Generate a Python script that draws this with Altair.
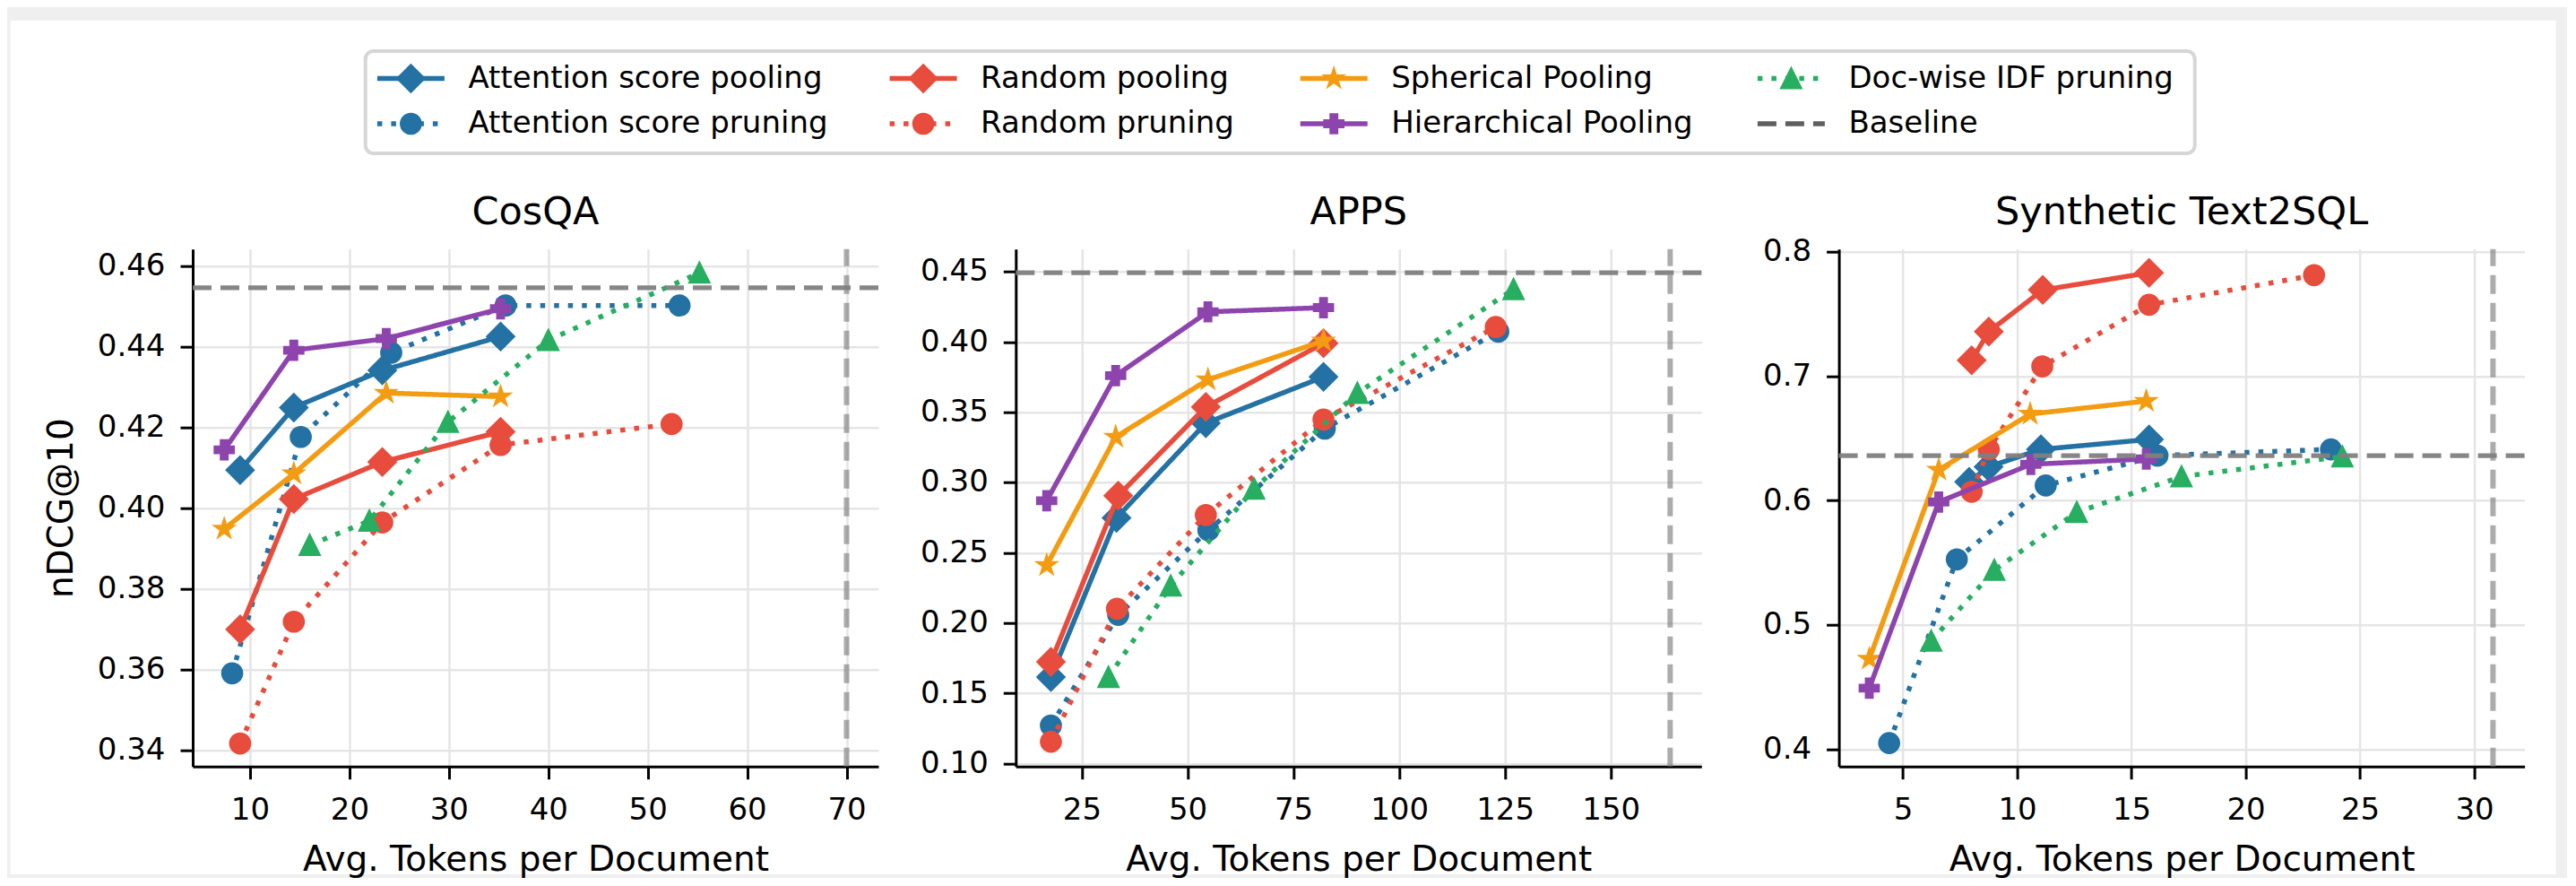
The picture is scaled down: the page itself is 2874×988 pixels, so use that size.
import math
import altair as alt
import pandas as pd

FONT = "DejaVu Sans"

# ------------------------------------------------------------------ data
method_names = [
    "Attention score pooling", "Attention score pruning",
    "Random pooling", "Random pruning",
    "Spherical Pooling", "Hierarchical Pooling",
    "Doc-wise IDF pruning",
]
method_colors = ["#2471A3", "#2471A3", "#E74C3C", "#E74C3C", "#F39C12", "#8E44AD", "#27AE60"]

# CosQA
cosqa_att_pool_x = [9.0, 14.4, 23.3, 35.2]
cosqa_att_pool_y = [0.4094, 0.4249, 0.4341, 0.4425]
cosqa_att_prune_x = [8.2, 15.1, 24.2, 35.7, 53.2]
cosqa_att_prune_y = [0.3590, 0.4176, 0.4385, 0.4502, 0.4502]
cosqa_rand_pool_x = [9.0, 14.4, 23.3, 35.2]
cosqa_rand_pool_y = [0.3699, 0.4022, 0.4114, 0.4189]
cosqa_rand_prune_x = [9.0, 14.4, 23.3, 35.2, 52.4]
cosqa_rand_prune_y = [0.3416, 0.3718, 0.3964, 0.4156, 0.4208]
cosqa_sph_x = [7.4, 14.4, 23.7, 35.2]
cosqa_sph_y = [0.3948, 0.4085, 0.4285, 0.4276]
cosqa_hier_x = [7.4, 14.4, 23.7, 35.2]
cosqa_hier_y = [0.4144, 0.4391, 0.4420, 0.4494]
cosqa_idf_x = [16.0, 22.0, 29.9, 40.0, 55.2]
cosqa_idf_y = [0.3908, 0.3968, 0.4213, 0.4416, 0.4583]
cosqa_baseline_score = 0.4546
cosqa_baseline_tokens = 70.0

# APPS
apps_att_pool_x = [17.7, 33.2, 54.3, 82.1]
apps_att_pool_y = [0.1615, 0.2748, 0.3422, 0.3751]
apps_att_prune_x = [17.7, 33.6, 54.9, 82.4, 123.4]
apps_att_prune_y = [0.1270, 0.2058, 0.2660, 0.3383, 0.4073]
apps_rand_pool_x = [17.7, 33.6, 54.3, 82.1]
apps_rand_pool_y = [0.1723, 0.2906, 0.3537, 0.3991]
apps_rand_prune_x = [17.7, 33.3, 54.3, 82.1, 122.8]
apps_rand_prune_y = [0.1155, 0.2101, 0.2768, 0.3448, 0.4106]
apps_sph_x = [16.7, 33.0, 54.8, 82.1]
apps_sph_y = [0.2410, 0.3324, 0.3731, 0.4007]
apps_hier_x = [16.7, 33.0, 54.8, 82.1]
apps_hier_y = [0.2870, 0.3760, 0.4214, 0.4244]
apps_idf_x = [31.3, 46.0, 65.7, 90.1, 127.0]
apps_idf_y = [0.1615, 0.2265, 0.2955, 0.3636, 0.4375]
apps_baseline_score = 0.4493
apps_baseline_tokens = 164.0

# Synthetic Text2SQL
sql_att_pool_x = [7.9, 8.75, 11.04, 15.77]
sql_att_pool_y = [0.615, 0.627, 0.641, 0.649]
sql_att_prune_x = [4.40, 7.36, 11.25, 16.14, 23.73]
sql_att_prune_y = [0.405, 0.5526, 0.612, 0.636, 0.641]
sql_rand_pool_x = [8.01, 8.76, 11.12, 15.77]
sql_rand_pool_y = [0.7126, 0.7356, 0.7691, 0.7829]
sql_rand_prune_x = [8.01, 8.76, 11.1, 15.77, 22.99]
sql_rand_prune_y = [0.607, 0.641, 0.7077, 0.7572, 0.781]
sql_sph_x = [3.53, 6.57, 10.57, 15.65]
sql_sph_y = [0.4726, 0.6245, 0.6694, 0.6798]
sql_hier_x = [3.53, 6.57, 10.6, 15.65]
sql_hier_y = [0.4491, 0.5987, 0.629, 0.6333]
sql_idf_x = [6.24, 9.0, 12.61, 17.19, 24.23]
sql_idf_y = [0.4871, 0.544, 0.5905, 0.6192, 0.6352]
sql_baseline_score = 0.636
sql_baseline_tokens = 30.82

panel_titles = ["CosQA", "APPS", "Synthetic Text2SQL"]
x_title = "Avg. Tokens per Document"
y_title = "nDCG@10"
baseline_label = "Baseline"

cosqa_xticks = [10, 20, 30, 40, 50, 60, 70]
cosqa_yticks = [0.34, 0.36, 0.38, 0.40, 0.42, 0.44, 0.46]
apps_xticks = [25, 50, 75, 100, 125, 150]
apps_yticks = [0.10, 0.15, 0.20, 0.25, 0.30, 0.35, 0.40, 0.45]
sql_xticks = [5, 10, 15, 20, 25, 30]
sql_yticks = [0.4, 0.5, 0.6, 0.7, 0.8]

# ------------------------------------------------------------------ styles
def star_path(n=5, inner=0.381966):
    pts = []
    for k in range(2 * n):
        ang = math.radians(90 + 180.0 / n * k)
        r = 1.0 if k % 2 == 0 else inner
        pts.append((r * math.cos(ang), -r * math.sin(ang)))
    return "M" + "L".join(f"{x:.4f},{y:.4f}" for x, y in pts) + "Z"

PLUS = "M-0.3333,-1L0.3333,-1L0.3333,-0.3333L1,-0.3333L1,0.3333L0.3333,0.3333L0.3333,1L-0.3333,1L-0.3333,0.3333L-1,0.3333L-1,-0.3333L-0.3333,-0.3333Z"
TRI = "M0,-1L1,1L-1,1Z"
STAR = star_path()

SOLID = [1, 0]
DOT = [5.5, 10]
method_shapes = ["diamond", "circle", "diamond", "circle", STAR, PLUS, TRI]
method_sizes = [858, 471, 858, 471, 400, 430, 450]
method_dashes = [SOLID, DOT, SOLID, DOT, SOLID, SOLID, DOT]
LINE_W = 5.5
EDGE_W = 3

BASE_DASH = [21, 10]
HCOLOR = "#808080"
W, H = 765, 577
GAP = 153.3


def panel(title, series, base_y, base_x, xdom, ydom, xticks, yticks, yfmt, show_ytitle):
    xscale = alt.Scale(domain=xdom, nice=False, zero=False)
    yscale = alt.Scale(domain=ydom, nice=False, zero=False)
    xaxis = alt.Axis(values=xticks, format="d", title=x_title, labelPadding=17.5,
                     titlePadding=19, labelFlush=False, labelOverlap=False)
    yargs = dict(values=yticks, format=yfmt, labelPadding=17, labelFlush=False,
                 labelOverlap=False)
    if show_ytitle:
        yargs.update(title=y_title, titlePadding=20)
    else:
        yargs.update(title=None)
    yaxis = alt.Axis(**yargs)

    layers = []
    for i, (xs, ys) in enumerate(series):
        df = pd.DataFrame({"x": xs, "y": ys, "method": method_names[i]})
        enc = dict(x=alt.X("x:Q", scale=xscale, axis=xaxis),
                   y=alt.Y("y:Q", scale=yscale, axis=yaxis))
        line = alt.Chart(df).mark_line(
            color=method_colors[i], strokeWidth=LINE_W, strokeDash=method_dashes[i],
            strokeCap="butt", strokeJoin="round").encode(**enc)
        pts = alt.Chart(df).mark_point(
            shape=method_shapes[i], size=method_sizes[i], filled=True,
            fill=method_colors[i], stroke=method_colors[i], strokeWidth=EDGE_W,
            strokeJoin="miter", opacity=1).encode(**enc)
        layers += [line, pts]

    hline = alt.Chart(pd.DataFrame({"y": [base_y]})).mark_rule(
        color=HCOLOR, opacity=0.95, strokeWidth=5.3, strokeDash=BASE_DASH, strokeCap="butt"
    ).encode(y=alt.Y("y:Q", scale=yscale, axis=yaxis), x=alt.value(0), x2=alt.value(W))
    vline = alt.Chart(pd.DataFrame({"x": [base_x]})).mark_rule(
        color=HCOLOR, opacity=0.65, strokeWidth=6, strokeDash=BASE_DASH, strokeCap="butt"
    ).encode(x=alt.X("x:Q", scale=xscale, axis=xaxis), y=alt.value(H), y2=alt.value(0))
    ttl = alt.Chart(pd.DataFrame({"t": [title]})).mark_text(
        font=FONT, fontSize=43, align="center", baseline="alphabetic", color="black"
    ).encode(text="t:N", x=alt.value(W / 2), y=alt.value(-27.7))
    layers += [hline, vline, ttl]

    return alt.layer(*layers).properties(width=W, height=H)


p1 = panel(panel_titles[0],
           [(cosqa_att_pool_x, cosqa_att_pool_y), (cosqa_att_prune_x, cosqa_att_prune_y),
            (cosqa_rand_pool_x, cosqa_rand_pool_y), (cosqa_rand_prune_x, cosqa_rand_prune_y),
            (cosqa_sph_x, cosqa_sph_y), (cosqa_hier_x, cosqa_hier_y), (cosqa_idf_x, cosqa_idf_y)],
           cosqa_baseline_score, cosqa_baseline_tokens,
           [4.23, 73.2], [0.3359, 0.4642], cosqa_xticks, cosqa_yticks, ".2f", True)
p2 = panel(panel_titles[1],
           [(apps_att_pool_x, apps_att_pool_y), (apps_att_prune_x, apps_att_prune_y),
            (apps_rand_pool_x, apps_rand_pool_y), (apps_rand_prune_x, apps_rand_prune_y),
            (apps_sph_x, apps_sph_y), (apps_hier_x, apps_hier_y), (apps_idf_x, apps_idf_y)],
           apps_baseline_score, apps_baseline_tokens,
           [9.4, 171.4], [0.0979, 0.4661], apps_xticks, apps_yticks, ".2f", False)
p3 = panel(panel_titles[2],
           [(sql_att_pool_x, sql_att_pool_y), (sql_att_prune_x, sql_att_prune_y),
            (sql_rand_pool_x, sql_rand_pool_y), (sql_rand_prune_x, sql_rand_prune_y),
            (sql_sph_x, sql_sph_y), (sql_hier_x, sql_hier_y), (sql_idf_x, sql_idf_y)],
           sql_baseline_score, sql_baseline_tokens,
           [2.2, 32.2], [0.3862, 0.802], sql_xticks, sql_yticks, ".1f", False)

panels = alt.hconcat(p1, p2, p3, spacing=GAP, bounds="flush")

# ------------------------------------------------------------------ legend (manual, matplotlib style)
LW = 3 * W + 2 * GAP
LH = 200
leg_col_x = [243.4, 815.1, 1273.2, 1783.4]
leg_row_y = [64.5, 115.0]
HALF = 37.5
TEXT_DX = 64

lx = alt.Scale(domain=[0, LW], nice=False, zero=False)
ly = alt.Scale(domain=[LH, 0], nice=False, zero=False)

leg_layers = []
# white card behind everything
leg_layers.append(alt.Chart(pd.DataFrame({"k": [0]})).mark_rect(fill="white", stroke=None).encode(
    x=alt.value(-203.3), x2=alt.value(2636.7), y=alt.value(0), y2=alt.value(952)))
# legend frame
leg_layers.append(alt.Chart(pd.DataFrame({"k": [0]})).mark_rect(
    fill="white", stroke="#d6d6d6", strokeWidth=4, cornerRadius=9).encode(
    x=alt.value(192.7), x2=alt.value(2233.7), y=alt.value(34), y2=alt.value(148)))

entries = []
for i, name in enumerate(method_names):
    entries.append((name, method_colors[i], method_dashes[i], method_shapes[i], method_sizes[i], i // 2, i % 2))
entries.append((baseline_label, "#5f5f5f", BASE_DASH, None, None, 3, 1))

for name, col, dash, shape, size, c, r in entries:
    cx, cy = leg_col_x[c], leg_row_y[r]
    d = pd.DataFrame({"x1": [cx - HALF], "x2": [cx + HALF], "cx": [cx], "tx": [cx + TEXT_DX],
                      "cy": [cy], "label": [name]})
    leg_layers.append(alt.Chart(d).mark_rule(
        color=col, strokeWidth=LINE_W if shape else 5.3, strokeDash=dash, strokeCap="butt").encode(
        x=alt.X("x1:Q", scale=lx, axis=None), x2="x2:Q", y=alt.Y("cy:Q", scale=ly, axis=None)))
    if shape:
        leg_layers.append(alt.Chart(d).mark_point(
            shape=shape, size=size, filled=True, fill=col, stroke=col, strokeWidth=EDGE_W,
            strokeJoin="miter", opacity=1).encode(x=alt.X("cx:Q", scale=lx, axis=None),
                                                  y=alt.Y("cy:Q", scale=ly, axis=None)))
    leg_layers.append(alt.Chart(d).mark_text(
        align="left", baseline="middle", font=FONT, fontSize=34, color="black").encode(
        x=alt.X("tx:Q", scale=lx, axis=None), y=alt.Y("cy:Q", scale=ly, axis=None),
        text="label:N"))

legend = alt.layer(*leg_layers).properties(width=LW, height=LH)

chart = alt.vconcat(legend, panels, spacing=254.7 - LH, bounds="flush").properties(
    background="#efefef",
    padding={"left": 3, "top": 15, "right": 12, "bottom": 0},
).configure_view(stroke=None).configure_axis(
    labelFont=FONT, labelFontSize=34, labelColor="black",
    titleFont=FONT, titleFontSize=39, titleFontWeight="normal", titleColor="black",
    tickSize=14, tickWidth=3, tickColor="black",
    domainColor="black", domainWidth=3,
    grid=True, gridColor="#e5e5e5", gridWidth=2.5,
)

chart.save("out.html", embed_options={"renderer": "svg", "actions": False})
